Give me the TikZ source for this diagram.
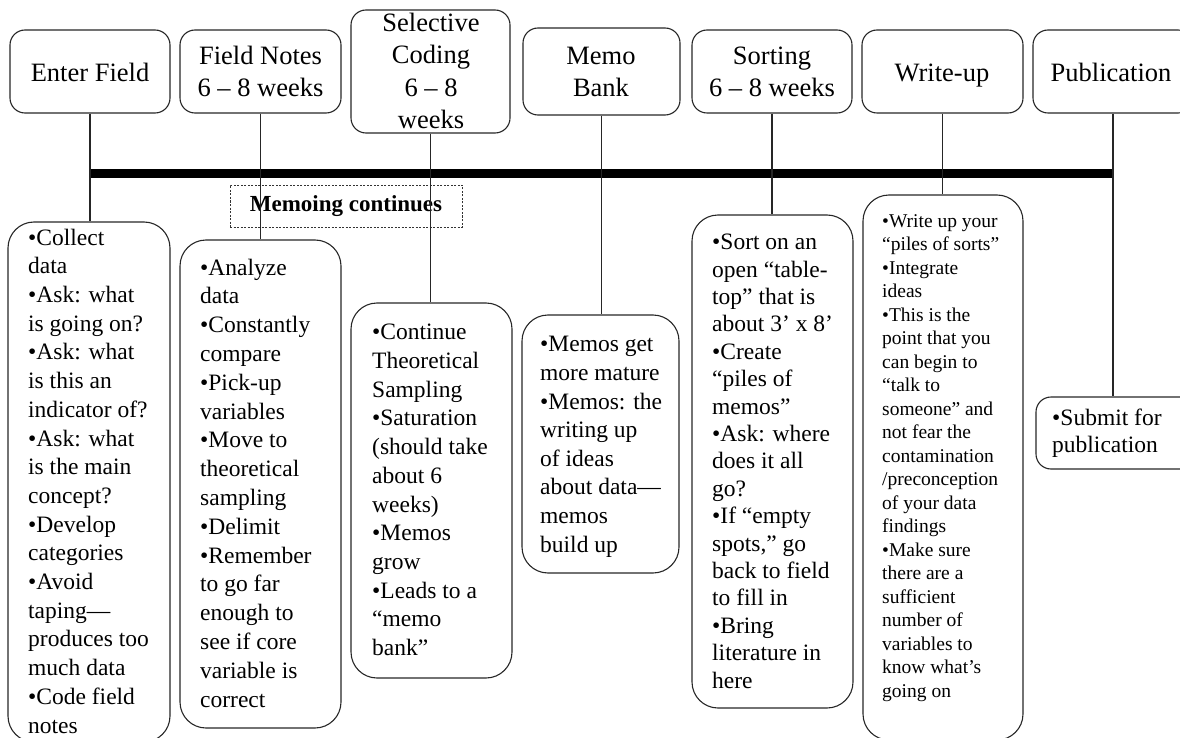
\documentclass[tikz,border=0pt]{standalone}
\usepackage{fontspec}
\setmainfont{Liberation Serif}
\begin{document}
\begin{tikzpicture}[x=1pt,y=-1pt,
  hbox/.style={draw=black!85, line width=1.1pt, rounded corners=15pt, inner sep=0pt},
  bbox/.style={draw=black!85, line width=1.1pt, rounded corners=26pt, inner sep=0pt},
  head/.style={anchor=base, align=center, inner sep=0pt, font=\fontsize{26.5}{32.5}\selectfont},
  btxt/.style={anchor=base west, align=left, inner sep=0pt, font=\fontsize{23.5}{28.7}\selectfont},
  link/.style={draw=black!85, line width=1.2pt},
  bar/.style={line width=9pt, line cap=butt},
  memobox/.style={draw=black!80, line width=0.8pt, dash pattern=on 2pt off 1.5pt, inner sep=0pt,
    font=\fontsize{23}{27}\selectfont\bfseries}
]
\useasboundingbox (0,0) rectangle (1180,738);
\clip (0,0) rectangle (1180,738);

% top boxes
\node[hbox, minimum width=160pt, minimum height=83pt]  (h1) at (90,71.5) {};
\node[hbox, minimum width=161pt, minimum height=83pt]  (h2) at (260.5,71.5) {};
\node[hbox, minimum width=159pt, minimum height=123pt] (h3) at (430.5,71.5) {};
\node[hbox, minimum width=157pt, minimum height=87pt]  (h4) at (601.5,71.5) {};
\node[hbox, minimum width=160pt, minimum height=83pt]  (h5) at (772,71.5) {};
\node[hbox, minimum width=161pt, minimum height=83pt]  (h6) at (942.5,71.5) {};
\node[hbox, minimum width=160pt, minimum height=83pt]  (h7) at (1113,71.5) {};

% heading texts (base anchor = baseline of the last line)
\node[head] (t1) at (90,82) {Enter Field};
\node[head] (t2) at (260.5,97) {Field Notes\\6 – 8 weeks};
\node[head] (t3) at (431,129) {Selective\\Coding\\6 – 8\\weeks};
\node[head] (t4) at (601,97) {Memo\\Bank};
\node[head] (t5) at (772,97) {Sorting\\6 – 8 weeks};
\node[head] (t6) at (942,82) {Write-up};
\node[head] (t7) at (1111,82) {Publication};

% bottom boxes
\node[bbox, minimum width=162pt, minimum height=520pt] (b1) at (89,482) {};
\node[bbox, minimum width=161pt, minimum height=488pt] (b2) at (260.5,484) {};
\node[bbox, minimum width=161pt, minimum height=375pt] (b3) at (431.5,490.5) {};
\node[bbox, minimum width=157pt, minimum height=258pt] (b4) at (600.5,444) {};
\node[bbox, minimum width=161pt, minimum height=493pt] (b5) at (772.5,461.5) {};
\node[bbox, minimum width=160pt, minimum height=545pt] (b6) at (943,467.5) {};
\node[hbox, minimum width=160pt, minimum height=72pt]  (b7) at (1116,433) {};

% memoing continues
\node[memobox, minimum width=232pt, minimum height=42pt] (memo) at (346,206) {Memoing continues};

% timeline bar
\coordinate (ybar) at (0,173.5);
\draw[bar] (h1.south |- ybar) -- (h7.south |- ybar);

% connectors
\draw[link] (h1.south) -- (h1.south |- b1.north);
\draw[link] (h2.south) -- (h2.south |- b2.north);
\draw[link] (h3.south) -- (h3.south |- b3.north);
\draw[link] (h4.south) -- (h4.south |- b4.north);
\draw[link] (h5.south) -- (h5.south |- b5.north);
\draw[link] (h6.south) -- (h6.south |- b6.north);
\draw[link] (h7.south) -- (h7.south |- b7.north);

% bottom texts (positioned at the baseline of their last line)
\node[btxt] (x1) at (28,733) {•Collect\\data\\•Ask: what\\is going on?\\•Ask: what\\is this an\\indicator of?\\•Ask: what\\is the main\\concept?\\•Develop\\categories\\•Avoid\\taping—\\produces too\\much data\\•Code field\\notes};
\node[btxt, font=\fontsize{23.5}{28.8}\selectfont] (x2) at (200,707) {•Analyze\\data\\•Constantly\\compare\\•Pick-up\\variables\\•Move to\\theoretical\\sampling\\•Delimit\\•Remember\\to go far\\enough to\\see if core\\variable is\\correct};
\node[btxt] (x3) at (372,655.5) {•Continue\\Theoretical\\Sampling\\•Saturation\\(should take\\about 6\\weeks)\\•Memos\\grow\\•Leads to a\\“memo\\bank”};
\node[btxt, font=\fontsize{23.5}{28.6}\selectfont] (x4) at (540,552) {•Memos get\\more mature\\•Memos: the\\writing up\\of ideas\\about data—\\memos\\build up};
\node[btxt, font=\fontsize{23.5}{27.4}\selectfont] (x5) at (712,688) {•Sort on an\\open “table-\\top” that is\\about 3’ x 8’\\•Create\\“piles of\\memos”\\•Ask: where\\does it all\\go?\\•If “empty\\spots,” go\\back to field\\to fill in\\•Bring\\literature in\\here};
\node[btxt, font=\fontsize{19.5}{23.5}\selectfont] (x6) at (882,697) {•Write up your\\“piles of sorts”\\•Integrate\\ideas\\•This is the\\point that you\\can begin to\\“talk to\\someone” and\\not fear the\\contamination\\/preconception\\of your data\\findings\\•Make sure\\there are a\\sufficient\\number of\\variables to\\know what’s\\going on};
\node[btxt, font=\fontsize{23.5}{27}\selectfont] (x7) at (1052,452) {•Submit for\\publication};
\end{tikzpicture}
\end{document}
